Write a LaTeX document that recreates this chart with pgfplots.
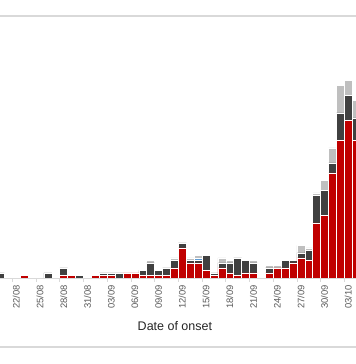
\documentclass[border=0pt]{standalone}
\usepackage{pgfplots}
\pgfplotsset{compat=1.18}
\usepackage{pgfplotstable}
\usepackage{fontspec}
\setmainfont{Liberation Sans}
\definecolor{cred}{HTML}{C00000}
\definecolor{cdark}{HTML}{404040}
\definecolor{cblue}{HTML}{5B9BD5}
\definecolor{clight}{HTML}{BFBFBF}
\definecolor{axisgray}{HTML}{D9D9D9}
\definecolor{labgray}{HTML}{595959}

% d = days after 22/08
\pgfplotstableread{
d red dark blue light
-2 0 2 0 0
1 1 0 0 0
4 0 2 0 0
6 1 3 0 0
7 1 0 0 0
8 0 1 0 0
10 1 0 0 0
11 1 1 0 0
12 1 1 0 0
13 0 2 0 0
14 2 0 0 0
15 2 0 0 0
16 1 2 0 0
17 1 5 0 1
18 1 2 0 0
19 1 3 0 0
20 4 3 0 1
21 12 2 0 0
22 6 1 0 1
23 6 1 1 1
24 3 6 0 0
25 1 1 0 0
26 4 2 0 2
27 2 4 0 1
28 1 7 0 0
29 2 5 0 0
30 2 4 0 1
32 2 2 0 1
33 4 0 0 1
34 4 3 0 0
35 6 1 0 0
36 8 2 0 3
37 7 4 0 1
38 22 11 0 1
39 25 10 0 4
40 42 4 0 6
41 55 11 0 11
42 63 10 0 6
43 55 9 0 7
}\epidata

\begin{document}
\begin{tikzpicture}
\begin{axis}[
  at={(0bp,86bp)}, anchor=south west,
  scale only axis, width=356bp, height=258bp,
  xmin=-2.062, xmax=42.97, ymin=0, ymax=103.2,
  ybar stacked, bar width=7.905bp,
  axis y line=none, axis x line*=bottom,
  x axis line style={axisgray, line width=1bp},
  xtick={0,3,...,42},
  xticklabels={22/08,25/08,28/08,31/08,03/09,06/09,09/09,12/09,15/09,18/09,21/09,24/09,27/09,30/09,03/10},
  major tick length=0pt,
  minor xtick={-0.5,2.5,...,41.5}, minor tick length=3.5bp,
  tick align=outside,
  minor tick style={axisgray, line width=0.8bp},
  xticklabel shift=7bp,
  xticklabel style={rotate=90, anchor=east, inner sep=0pt, font=\fontsize{9.4bp}{10bp}\selectfont, text=labgray},
  xlabel={Date of onset},
  xlabel style={at={(axis description cs:0.4913,0)}, anchor=base, yshift=-52.7bp, inner sep=0pt, font=\fontsize{12.5bp}{14bp}\selectfont, text=black!85},
  axis on top,
  every axis plot/.append style={draw=white, line width=0.6bp},
]
\addplot[fill=cred] table[x=d,y=red]{\epidata};
\addplot[fill=cdark] table[x=d,y=dark]{\epidata};
\addplot[fill=cblue] table[x=d,y=blue]{\epidata};
\addplot[fill=clight] table[x=d,y=light]{\epidata};
\end{axis}
\draw[axisgray, line width=1.3bp] (0bp,348bp) -- (356bp,348bp);
\draw[axisgray, line width=1.3bp] (0bp,17bp) -- (356bp,17bp);
\pgfresetboundingbox
\path (0bp,0bp) rectangle (356bp,364bp);
\end{tikzpicture}
\end{document}
